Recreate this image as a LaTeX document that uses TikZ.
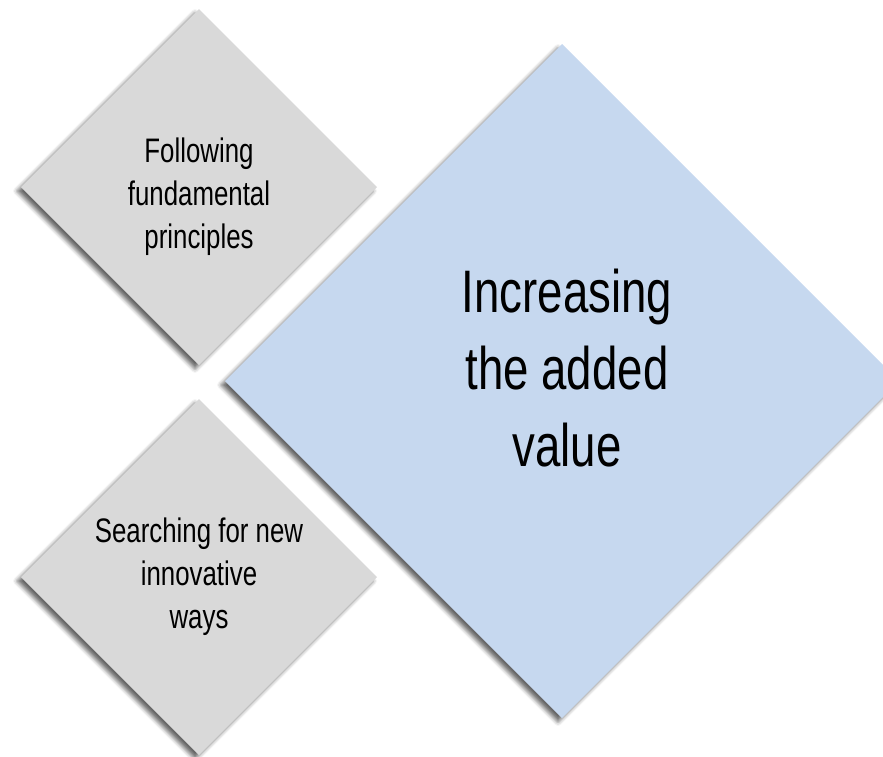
\documentclass[tikz,border=0pt]{standalone}
\usepackage{fontspec}
\setmainfont[FakeStretch=0.76]{Liberation Sans}
\usepackage{tikz}
\usetikzlibrary{shapes.geometric, positioning, shadows.blur}
\definecolor{tilegray}{HTML}{D9D9D9}
\definecolor{tileblue}{HTML}{C6D8EF}

\begin{document}
\begin{tikzpicture}[x=1pt, y=-1pt,
  tile/.style={diamond, aspect=1, inner sep=0pt, outer sep=0pt,
    blur shadow={shadow xshift=-4pt, shadow yshift=-4pt, shadow blur radius=4pt, shadow opacity=60}},
  smalltile/.style={tile, fill=tilegray, minimum width=356pt, minimum height=356pt},
  bigtile/.style={tile, fill=tileblue, minimum width=674pt, minimum height=674pt},
  smalltext/.style={align=center, font=\fontsize{34}{43}\selectfont},
  bigtext/.style={align=center, font=\fontsize{60}{77}\selectfont}]
  \useasboundingbox (0,0) rectangle (883,756);

  % Main diamond
  \node[bigtile] (value) at (562,381) {};
  \node[bigtext] (valuetext) at ([xshift=5pt, yshift=13pt]value.center) {Increasing\\the added\\value};

  % Left diamonds
  \node[smalltile] (principles) at (199,187) {};
  \node[smalltext] (principlestext) at ([yshift=-10pt]principles.center) {Following\\fundamental\\principles};

  \node[smalltile] (innovation) at (199,577) {};
  \node[smalltext] (innovationtext) at (innovation.center) {Searching for new\\innovative\\ways};

\end{tikzpicture}
\end{document}
